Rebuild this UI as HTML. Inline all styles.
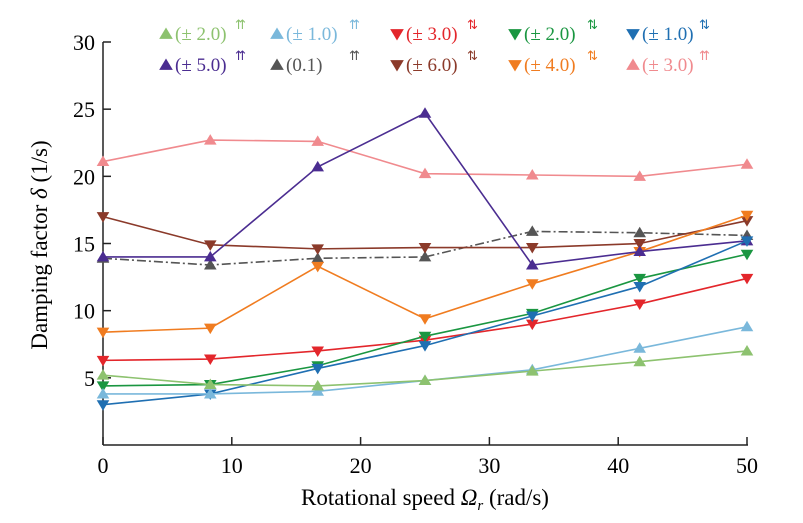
<!DOCTYPE html>
<html><head><meta charset="utf-8"><style>
body{margin:0;background:#fff;}
svg{display:block;font-family:"Liberation Serif",serif;}
</style></head><body>
<svg id="chart" width="803" height="523" viewBox="0 0 803 523" xmlns="http://www.w3.org/2000/svg">
<g id="axes"></g>
<g id="series"></g>
<g id="legend"></g>
<text x="425" y="505" font-size="23" text-anchor="middle">Rotational speed <tspan font-style="italic">Ω</tspan><tspan font-style="italic" font-size="15" dy="5">r</tspan><tspan dy="-5"> (rad/s)</tspan></text>
<text transform="translate(47,245) rotate(-90)" font-size="23" text-anchor="middle">Damping factor <tspan font-style="italic">δ</tspan> (1/s)</text>
</svg>
<script>
const xValues=[0,8.33,16.67,25,33.33,41.67,50];
const xTicks=[0,10,20,30,40,50];
const yTicks=[5,10,15,20,25,30];
const labels=["(±2.0)","(±1.0)","(±3.0)","(±2.0)","(±1.0)","(±5.0)","(0.1)","(±6.0)","(±4.0)","(±3.0)"];
const arrows=["⇈","⇈","⇅","⇅","⇅","⇈","⇈","⇅","⇅","⇈"];
const colors=["#8dc26f","#7ab8db","#e3262b","#1a9641","#1f6fb2","#4b2d91","#555555","#8b3a2a","#f07c20","#f08a8e"];
const markers=["up","up","down","down","down","up","up","down","down","up"];
const s0=[5.2,4.5,4.4,4.8,5.5,6.2,7.0];
const s1=[3.8,3.8,4.0,4.8,5.6,7.2,8.8];
const s2=[6.3,6.4,7.0,7.8,9.0,10.5,12.4];
const s3=[4.4,4.5,5.9,8.1,9.8,12.4,14.2];
const s4=[3.0,3.8,5.7,7.4,9.6,11.8,15.2];
const s5=[14.0,14.0,20.7,24.7,13.4,14.4,15.2];
const s6=[13.9,13.4,13.9,14.0,15.9,15.8,15.6];
const s7=[17.0,14.9,14.6,14.7,14.7,15.0,16.7];
const s8=[8.4,8.7,13.3,9.4,12.0,14.4,17.1];
const s9=[21.1,22.7,22.6,20.2,20.1,20.0,20.9];
const seriesValues=[s0,s1,s2,s3,s4,s5,s6,s7,s8,s9];
const drawOrder=[6,7,8,9,5,2,3,4,1,0];

const NS="http://www.w3.org/2000/svg";
const X0=103,X1=747,Y0=445,Y1=42;
function xs(v){return X0+(v-0)/(50-0)*(X1-X0);}
function ys(v){return Y0-(v-0)/(30-0)*(Y0-Y1);}
function mk(tag,attrs,parent){const e=document.createElementNS(NS,tag);for(const k in attrs)e.setAttribute(k,attrs[k]);parent.appendChild(e);return e;}
function tri(x,y,dir,s){return dir==="up"?`${x},${y-s} ${x-s*1.05},${y+s*0.75} ${x+s*1.05},${y+s*0.75}`:`${x},${y+s} ${x-s*1.05},${y-s*0.75} ${x+s*1.05},${y-s*0.75}`;}

const axes=document.getElementById('axes');
let l=mk('line',{x1:X0,y1:Y0,x2:X1+1,y2:Y0,stroke:'#222','stroke-width':1.5},axes);

l=mk('line',{x1:X0,y1:Y0,x2:X0,y2:Y1,stroke:'#222','stroke-width':1.5},axes);

xTicks.forEach(t=>{
  const tk=mk('line',{x1:xs(t),y1:Y0,x2:xs(t),y2:Y0-8,stroke:'#222','stroke-width':1.5},axes);
  
  const tx=mk('text',{x:xs(t),y:Y0+28,'font-size':22,'text-anchor':'middle'},axes);
  tx.textContent=t;
  
});
yTicks.forEach(t=>{
  const tk=mk('line',{x1:X0,y1:ys(t),x2:X0+8,y2:ys(t),stroke:'#222','stroke-width':1.5},axes);
  
  const tx=mk('text',{x:X0-8,y:ys(t)+8,'font-size':22,'text-anchor':'end'},axes);
  tx.textContent=t;
  
});

const sg=document.getElementById('series');
drawOrder.forEach(i=>{
  const vals=seriesValues[i];
  const g=mk('g',{},sg);
  
  
  const pts=vals.map((v,j)=>xs(xValues[j])+','+ys(v)).join(' ');
  const pl=mk('polyline',{points:pts,fill:'none',stroke:colors[i],'stroke-width':1.6},g);
  if(i===6)pl.setAttribute('stroke-dasharray','9,3,2,3');
  
  
  vals.forEach((v,j)=>{
    const p=mk('polygon',{points:tri(xs(xValues[j]),ys(v),markers[i],6),fill:colors[i]},g);
    
    
  });
});

const lg=document.getElementById('legend');
const colX=[166,277,397,515,633];
const arrX=[235,349,467,587,699];
const rowY=[40,71];
labels.forEach((lab,i)=>{
  const r=i<5?0:1,c=i%5;
  const g=mk('g',{},lg);
  
  
  const p=mk('polygon',{points:tri(colX[c],rowY[r]-6,markers[i],6.5),fill:colors[i]},g);
  
  
  const t=mk('text',{x:colX[c]+9,y:rowY[r],'font-size':19,fill:colors[i]},g);
  t.textContent=lab.replace('±',' ± ').replace('( ','(');
  t.setAttribute('xml:space','preserve');
  
  
  const a=mk('text',{x:arrX[c],y:rowY[r]-11,'font-size':13,fill:colors[i],'font-family':'DejaVu Sans, sans-serif'},g);
  a.textContent=arrows[i];
  
  
});
</script>
</body></html>
